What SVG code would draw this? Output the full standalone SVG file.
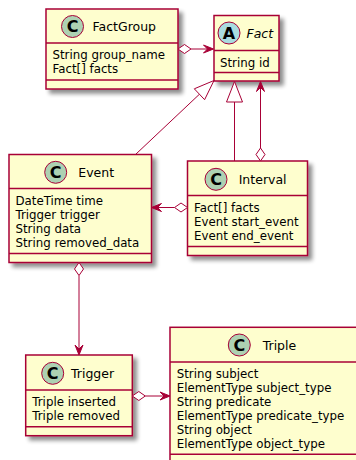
<svg xmlns="http://www.w3.org/2000/svg" width="356" height="460" viewBox="0 0 356 460">
<defs>
<filter id="sh" x="-20%" y="-20%" width="150%" height="150%">
<feGaussianBlur in="SourceAlpha" stdDeviation="2" result="b"/>
<feOffset in="b" dx="4" dy="4" result="o"/>
<feComponentTransfer in="o" result="c"><feFuncA type="linear" slope="0.45"/></feComponentTransfer>
<feMerge><feMergeNode in="c"/><feMergeNode in="SourceGraphic"/></feMerge>
</filter>
</defs>
<style>
.box{fill:#FEFECE;stroke:#A80036;stroke-width:1.5;filter:url(#sh)}
.div{stroke:#A80036;stroke-width:1.5}
.cc{fill:#ADD1B2;stroke:#A80036;stroke-width:1}
.ca{fill:#A9DCDF;stroke:#A80036;stroke-width:1}
.sym{font-family:"DejaVu Sans",sans-serif;font-size:16px;font-weight:bold;fill:#000;text-anchor:middle}
.name{font-family:"DejaVu Sans",sans-serif;font-size:12.5px;fill:#000}
.attr{font-family:"DejaVu Sans",sans-serif;font-size:11.8px;fill:#000}
.ln{stroke:#A80036;stroke-width:1;fill:none}
.arr{fill:#A80036;stroke:#A80036;stroke-width:1}
.dia{fill:#FFFFFF;stroke:#A80036;stroke-width:1}
.tri{fill:#FFFFFF;stroke:#A80036;stroke-width:1}
</style>
<rect width="356" height="460" fill="#FFFFFF"/>

<g id="FactGroup">
<rect class="box" x="46" y="9" width="132" height="80"/>
<circle class="cc" cx="72.5" cy="26.5" r="11"/>
<text class="sym" x="72.5" y="32.2">C</text>
<text class="name" x="92.5" y="31">FactGroup</text>
<line class="div" x1="46" y1="43" x2="178" y2="43"/>
<text class="attr" x="52.5" y="59">String group_name</text>
<text class="attr" x="52.5" y="73">Fact[] facts</text>
<line class="div" x1="46" y1="80" x2="178" y2="80"/>
</g>

<g id="Fact">
<rect class="box" x="214" y="15.5" width="65" height="65.5"/>
<circle class="ca" cx="229" cy="33" r="11"/>
<text class="sym" x="229" y="38.7">A</text>
<text class="name" x="246.5" y="37.5" font-style="italic">Fact</text>
<line class="div" x1="214" y1="50.5" x2="279" y2="50.5"/>
<text class="attr" x="220" y="66.5">String id</text>
<line class="div" x1="214" y1="72.5" x2="279" y2="72.5"/>
</g>

<g id="Event">
<rect class="box" x="9" y="154.5" width="142.5" height="108"/>
<circle class="cc" cx="55.7" cy="172.3" r="11"/>
<text class="sym" x="55.7" y="178">C</text>
<text class="name" x="78.3" y="177">Event</text>
<line class="div" x1="9" y1="188.5" x2="151.5" y2="188.5"/>
<text class="attr" x="15.5" y="205">DateTime time</text>
<text class="attr" x="15.5" y="219">Trigger trigger</text>
<text class="attr" x="15.5" y="233">String data</text>
<text class="attr" x="15.5" y="247">String removed_data</text>
<line class="div" x1="9" y1="253.5" x2="151.5" y2="253.5"/>
</g>

<g id="Interval">
<rect class="box" x="187.5" y="161" width="120" height="94.5"/>
<circle class="cc" cx="216" cy="179.3" r="11"/>
<text class="sym" x="216" y="185">C</text>
<text class="name" x="238.7" y="184">Interval</text>
<line class="div" x1="187.5" y1="195.5" x2="307.5" y2="195.5"/>
<text class="attr" x="194" y="212">Fact[] facts</text>
<text class="attr" x="194" y="226">Event start_event</text>
<text class="attr" x="194" y="240">Event end_event</text>
<line class="div" x1="187.5" y1="246.5" x2="307.5" y2="246.5"/>
</g>

<g id="Trigger">
<rect class="box" x="25.7" y="355" width="106.6" height="80.7"/>
<circle class="cc" cx="52.7" cy="373.3" r="11"/>
<text class="sym" x="52.7" y="379">C</text>
<text class="name" x="71" y="378">Trigger</text>
<line class="div" x1="25.7" y1="390" x2="132.3" y2="390"/>
<text class="attr" x="32.3" y="406">Triple inserted</text>
<text class="attr" x="32.3" y="420">Triple removed</text>
<line class="div" x1="25.7" y1="426.7" x2="132.3" y2="426.7"/>
</g>

<g id="Triple">
<rect class="box" x="170" y="327.3" width="200" height="140"/>
<circle class="cc" cx="239.3" cy="345" r="11"/>
<text class="sym" x="239.3" y="350.7">C</text>
<text class="name" x="262.7" y="349.5">Triple</text>
<line class="div" x1="170" y1="362" x2="370" y2="362"/>
<text class="attr" x="176.7" y="377.5">String subject</text>
<text class="attr" x="176.7" y="391.5">ElementType subject_type</text>
<text class="attr" x="176.7" y="405.5">String predicate</text>
<text class="attr" x="176.7" y="419.5">ElementType predicate_type</text>
<text class="attr" x="176.7" y="433.5">String object</text>
<text class="attr" x="176.7" y="447.5">ElementType object_type</text>
<line class="div" x1="170" y1="454.3" x2="370" y2="454.3"/>
</g>

<g id="connectors">
<line class="ln" x1="191" y1="49" x2="212" y2="49"/>
<polygon class="dia" points="178,49 184.5,44.5 191,49 184.5,53.5"/>
<polygon class="arr" points="213.5,49 203.5,45 207.5,49 203.5,53"/>
<line class="ln" x1="135.5" y1="154.5" x2="199.45" y2="94.22"/>
<polygon class="tri" points="214,80.5 204.6,99.7 194.3,88.8"/>
<line class="ln" x1="234.5" y1="102" x2="234.5" y2="161"/>
<polygon class="tri" points="234.5,81.5 242.5,102 226.5,102"/>
<line class="ln" x1="260.5" y1="148" x2="260.5" y2="83"/>
<polygon class="dia" points="260.5,161 265,154.5 260.5,148 256,154.5"/>
<polygon class="arr" points="260.5,81.5 256.5,91.5 260.5,87.5 264.5,91.5"/>
<line class="ln" x1="174.5" y1="207.5" x2="153" y2="207.5"/>
<polygon class="dia" points="187.5,207.5 181,203 174.5,207.5 181,212"/>
<polygon class="arr" points="151.5,207.5 161.5,203.5 157.5,207.5 161.5,211.5"/>
<line class="ln" x1="79" y1="275.5" x2="79" y2="353"/>
<polygon class="dia" points="79,262.5 83.5,269 79,275.5 74.5,269"/>
<polygon class="arr" points="79,355 75,345 79,349 83,345"/>
<line class="ln" x1="145.3" y1="396" x2="168" y2="396"/>
<polygon class="dia" points="132.3,396 138.8,391.5 145.3,396 138.8,400.5"/>
<polygon class="arr" points="170,396 160,392 164,396 160,400"/>
</g>
</svg>
